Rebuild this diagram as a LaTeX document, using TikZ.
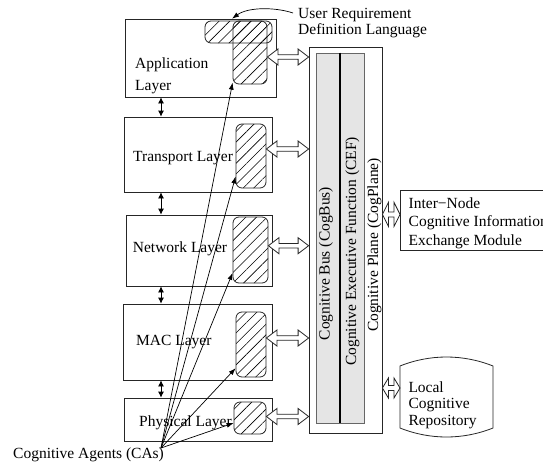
\documentclass[tikz,border=0pt]{standalone}
\usepackage{fontspec}
\setmainfont{Liberation Serif}
\usetikzlibrary{arrows.meta,patterns.meta,calc}
\tikzset{layer/.style 2 args={draw=black!85, line width=0.8pt,
  minimum width=#1, minimum height=#2, inner sep=0pt}}
\tikzset{agent/.style 2 args={draw=black!85, line width=0.8pt, rounded corners=6pt,
  pattern={Lines[angle=45,distance=7.5pt,line width=0.6pt]},
  minimum width=#1, minimum height=#2, inner sep=0pt}}
\tikzset{lbl/.style={anchor=west, inner sep=0pt}}
\tikzset{updown/.style={line width=0.8pt, {Latex[length=6pt,width=6pt]}-{Latex[length=6pt,width=6pt]}}}
\tikzset{calink/.style={line width=0.7pt, -{Latex[length=7pt,width=5pt]}}}
\tikzset{dblarr/.style={draw=black!85, line width=0.8pt, fill=white}}
% hollow two-headed arrow: from, to, head length, head half height, shaft half height
\newcommand{\dblarrow}[5]{%
  \draw[dblarr] let \p1=(#1), \p2=(#2) in
    (\x1,\y1) -- (\x1+#3,\y1+#4) -- (\x1+#3,\y1+#5) -- (\x2-#3,\y1+#5)
    -- (\x2-#3,\y1+#4) -- (\x2,\y1) -- (\x2-#3,\y1-#4) -- (\x2-#3,\y1-#5)
    -- (\x1+#3,\y1-#5) -- (\x1+#3,\y1-#4) -- cycle;}

\begin{document}
\begin{tikzpicture}[x=1pt,y=-1pt,font=\fontsize{15.5}{17}\selectfont]
  \useasboundingbox (0,0) rectangle (543,463);

  \node[layer={151pt}{78pt}] (app) at (200.5,58) {};
  \node[layer={148pt}{75pt}] (trans) at (198,154.5) {};
  \node[layer={146pt}{71pt}] (net) at (199,250.5) {};
  \node[layer={149pt}{76pt}] (mac) at (197.5,342) {};
  \node[layer={148pt}{43pt}] (phy) at (198,419.5) {};

  \node[lbl, align=left, font=\fontsize{15.5}{22}\selectfont] (applbl) at (135,76) {Application\\Layer};
  \node[lbl] (translbl) at (133,158) {Transport Layer};
  \node[lbl] (netlbl) at (132.7,248.5) {Network Layer};
  \node[lbl] (maclbl) at (136,342.5) {MAC Layer};
  \node[lbl] (phylbl) at (139,422.5) {Physical Layer};

  \node[agent={67pt}{22pt}] (appH) at (238.5,32) {};
  \node[agent={34pt}{63pt}] (appV) at (250,52.5) {};
  \node[agent={30pt}{64pt}] (transCA) at (251,156) {};
  \node[agent={35pt}{66pt}] (netCA) at (250.5,250) {};
  \node[agent={30pt}{65pt}] (macCA) at (251,344.5) {};
  \node[agent={32pt}{32pt}] (phyCA) at (250,418) {};

  \coordinate (ca) at (161,448);
  \foreach \a/\b in {app/trans, trans/net, net/mac, mac/phy}
    \draw[updown] (\a.south -| ca) -- (\b.north -| ca);

  \node[draw=black!85, line width=0.8pt, minimum width=73pt, minimum height=386pt, inner sep=0pt] (cog) at (345.5,240) {};
  \node[draw=black!60, fill=gray!20, line width=0.8pt, minimum width=48pt, minimum height=370pt, inner sep=0pt] (bus) at (340,238) {};
  \draw[line width=2pt] (bus.north) -- (bus.south);
  \node[rotate=90] (buslbl) at (326,263.5) {Cognitive Bus (CogBus)};
  \node[rotate=90] (ceflbl) at (352.5,251.5) {Cognitive Executive Function (CEF)};
  \node[rotate=90] (coglbl) at (374.3,245) {Cognitive Plane (CogPlane)};

  \dblarrow{[yshift=-4.5pt]appV.east}{cog.west}{10.5pt}{8pt}{2.3pt}
  \foreach \ag/\s in {transCA/7, netCA/4.3, macCA/6.5, phyCA/1.5}
    {\dblarrow{[yshift=\s pt]\ag.east}{cog.west}{10.5pt}{8pt}{2.3pt}}

  \node[draw=black!85, line width=0.8pt, anchor=north west, minimum width=160pt, minimum height=60pt, inner sep=0pt] (inter) at (400,190) {};
  \node[lbl, align=left, font=\fontsize{15.5}{18.3}\selectfont] (interlbl) at (408.5,223) {Inter−Node\\Cognitive Information\\Exchange Module};
  \dblarrow{$(cog.east |- inter.west)+(0,6pt)$}{inter.west}{6pt}{12pt}{2.5pt}

  \draw[draw=black!85, line width=0.8pt] (400,366) .. controls (430,354) and (463,354) .. (493,366)
    -- (493,428) .. controls (463,440) and (430,440) .. (400,428) -- cycle;
  \coordinate (repo) at (400,388);
  \node[lbl, align=left, font=\fontsize{15.5}{16.3}\selectfont] (repolbl) at (408.3,405) {Local\\Cognitive\\Repository};
  \dblarrow{cog.east |- repo}{repo}{6pt}{10pt}{2.5pt}

  \node[lbl, align=left, font=\fontsize{15.5}{16}\selectfont] (urdl) at (298,23.5) {User Requirement\\Definition Language};
  \coordinate (urdlend) at (293,13);
  \draw[calink] (urdlend) .. controls (275,7) and (248,7) .. ([xshift=-6.5pt,yshift=2pt]appH.north);

  \node[lbl] (calbl) at (13,454.5) {Cognitive Agents (CAs)};
  \foreach \t in {appV.240, transCA.233, netCA.232, macCA.237, phyCA.197}
    \draw[calink] (ca) -- (\t);
\end{tikzpicture}
\end{document}
